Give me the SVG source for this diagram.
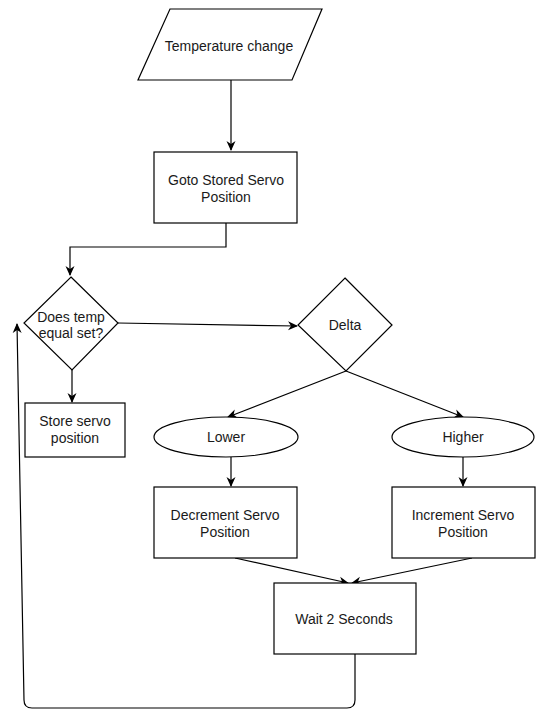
<svg xmlns="http://www.w3.org/2000/svg" width="536" height="711" viewBox="0 0 536 711">
<style>
.s{fill:#fff;stroke:#000;stroke-width:1.2}
.t{font-family:"Liberation Sans",Arial,sans-serif;font-size:14px;fill:#1a1a1a;text-anchor:middle}
.c{fill:none;stroke:#000;stroke-width:1.2}
</style>
<defs>
<marker id="a" markerWidth="10" markerHeight="10" refX="9" refY="5" orient="auto" markerUnits="userSpaceOnUse">
<path d="M0,0.5 L10,5 L0,9.5 L3,5 Z" fill="#000"/>
</marker>
</defs>
<rect width="536" height="711" fill="#fff"/>
<g id="connectors">
<path class="c" d="M231,80 L231,150" marker-end="url(#a)"/>
<path class="c" d="M226,223 L226,247 L70,247 L70,275" marker-end="url(#a)"/>
<path class="c" d="M118,323 L297,326" marker-end="url(#a)"/>
<path class="c" d="M72,370 L72,402" marker-end="url(#a)"/>
<path class="c" d="M346,371 L228,417" marker-end="url(#a)"/>
<path class="c" d="M346,371 L463,417" marker-end="url(#a)"/>
<path class="c" d="M231,457 L231,486" marker-end="url(#a)"/>
<path class="c" d="M463,457 L463,486" marker-end="url(#a)"/>
<path class="c" d="M235,558 L348,583" marker-end="url(#a)"/>
<path class="c" d="M472,558 L352,583" marker-end="url(#a)"/>
<path class="c" d="M355,654 L355,700 Q355,708 347,708 L32,708 Q24,708 24,700 L17,324" marker-end="url(#a)"/>
</g>
<g id="temperature-change">
<path class="s" d="M170,9 L322,9 L292,80 L138,80 Z"/>
<text class="t" x="229" y="51">Temperature change</text>
</g>
<g id="goto-stored">
<rect class="s" x="154" y="152" width="143" height="71"/>
<text class="t" x="226" y="185">Goto Stored Servo</text>
<text class="t" x="226" y="202">Position</text>
</g>
<g id="does-temp-equal">
<path class="s" d="M71,277 L118,323 L72,370 L24,323 Z"/>
<text class="t" x="71" y="322">Does temp</text>
<text class="t" x="71" y="338">equal set?</text>
</g>
<g id="delta">
<path class="s" d="M345,278 L392,325 L346,371 L298,325 Z"/>
<text class="t" x="345" y="330">Delta</text>
</g>
<g id="store-servo">
<rect class="s" x="25" y="403" width="100" height="54"/>
<text class="t" x="75" y="426">Store servo</text>
<text class="t" x="75" y="443">position</text>
</g>
<g id="lower">
<ellipse class="s" cx="226" cy="437" rx="72" ry="20"/>
<text class="t" x="226" y="442">Lower</text>
</g>
<g id="higher">
<ellipse class="s" cx="463" cy="437" rx="71" ry="20"/>
<text class="t" x="463" y="442">Higher</text>
</g>
<g id="decrement">
<rect class="s" x="154" y="487" width="143" height="71"/>
<text class="t" x="225" y="520">Decrement Servo</text>
<text class="t" x="225" y="537">Position</text>
</g>
<g id="increment">
<rect class="s" x="392" y="487" width="143" height="71"/>
<text class="t" x="463" y="520">Increment Servo</text>
<text class="t" x="463" y="537">Position</text>
</g>
<g id="wait">
<rect class="s" x="274" y="583" width="142" height="71"/>
<text class="t" x="344" y="624">Wait 2 Seconds</text>
</g>
</svg>
